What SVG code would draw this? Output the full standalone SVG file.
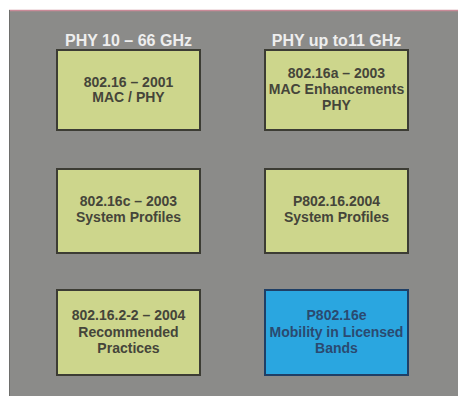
<svg xmlns="http://www.w3.org/2000/svg" width="458" height="396" viewBox="0 0 458 396">
<style>
.hdr{font-family:"Liberation Sans",Arial,sans-serif;font-size:16px;font-weight:bold;fill:#eeeeee;text-anchor:middle}
.box{fill:#cdd68c;stroke:#3c3c34;stroke-width:2}
.blue{fill:#2aa6e0;stroke:#1f3f66;stroke-width:2}
.t{font-family:"Liberation Sans",Arial,sans-serif;font-size:14px;font-weight:bold;fill:#45453a;text-anchor:middle}
.tb{font-family:"Liberation Sans",Arial,sans-serif;font-size:14px;font-weight:bold;fill:#2a4a70;text-anchor:middle}
</style>
<rect x="0" y="0" width="458" height="396" fill="#ffffff"/>
<rect x="9" y="10" width="449" height="386" fill="#8b8b89"/>
<line x1="9" y1="10.5" x2="458" y2="10.5" stroke="#c98a98" stroke-width="1.5"/>
<line x1="9.5" y1="10" x2="9.5" y2="396" stroke="#6e6e6c" stroke-width="1"/>
<g id="headers">
<text class="hdr" x="128.5" y="46">PHY 10 – 66 GHz</text>
<text class="hdr" x="336.5" y="46">PHY up to11 GHz</text>
</g>
<g id="node1">
<rect class="box" x="57" y="50" width="143" height="80"/>
<text class="t" x="128.5" y="87">802.16 – 2001</text>
<text class="t" x="128.5" y="102">MAC / PHY</text>
</g>
<g id="node2">
<rect class="box" x="265" y="50" width="143" height="80"/>
<text class="t" x="336.5" y="78">802.16a – 2003</text>
<text class="t" x="336.5" y="94">MAC Enhancements</text>
<text class="t" x="336.5" y="110">PHY</text>
</g>
<g id="node3">
<rect class="box" x="57" y="169" width="143" height="84"/>
<text class="t" x="128.5" y="206">802.16c – 2003</text>
<text class="t" x="128.5" y="222">System Profiles</text>
</g>
<g id="node4">
<rect class="box" x="265" y="169" width="143" height="84"/>
<text class="t" x="336.5" y="206">P802.16.2004</text>
<text class="t" x="336.5" y="222">System Profiles</text>
</g>
<g id="node5">
<rect class="box" x="57" y="290" width="143" height="85"/>
<text class="t" x="128.5" y="320">802.16.2-2 – 2004</text>
<text class="t" x="128.5" y="337">Recommended</text>
<text class="t" x="128.5" y="353">Practices</text>
</g>
<g id="node6">
<rect class="blue" x="265" y="290" width="143" height="85"/>
<text class="tb" x="336.5" y="320">P802.16e</text>
<text class="tb" x="336.5" y="337">Mobility in Licensed</text>
<text class="tb" x="336.5" y="353">Bands</text>
</g>
<g id="connectors"></g>
</svg>
